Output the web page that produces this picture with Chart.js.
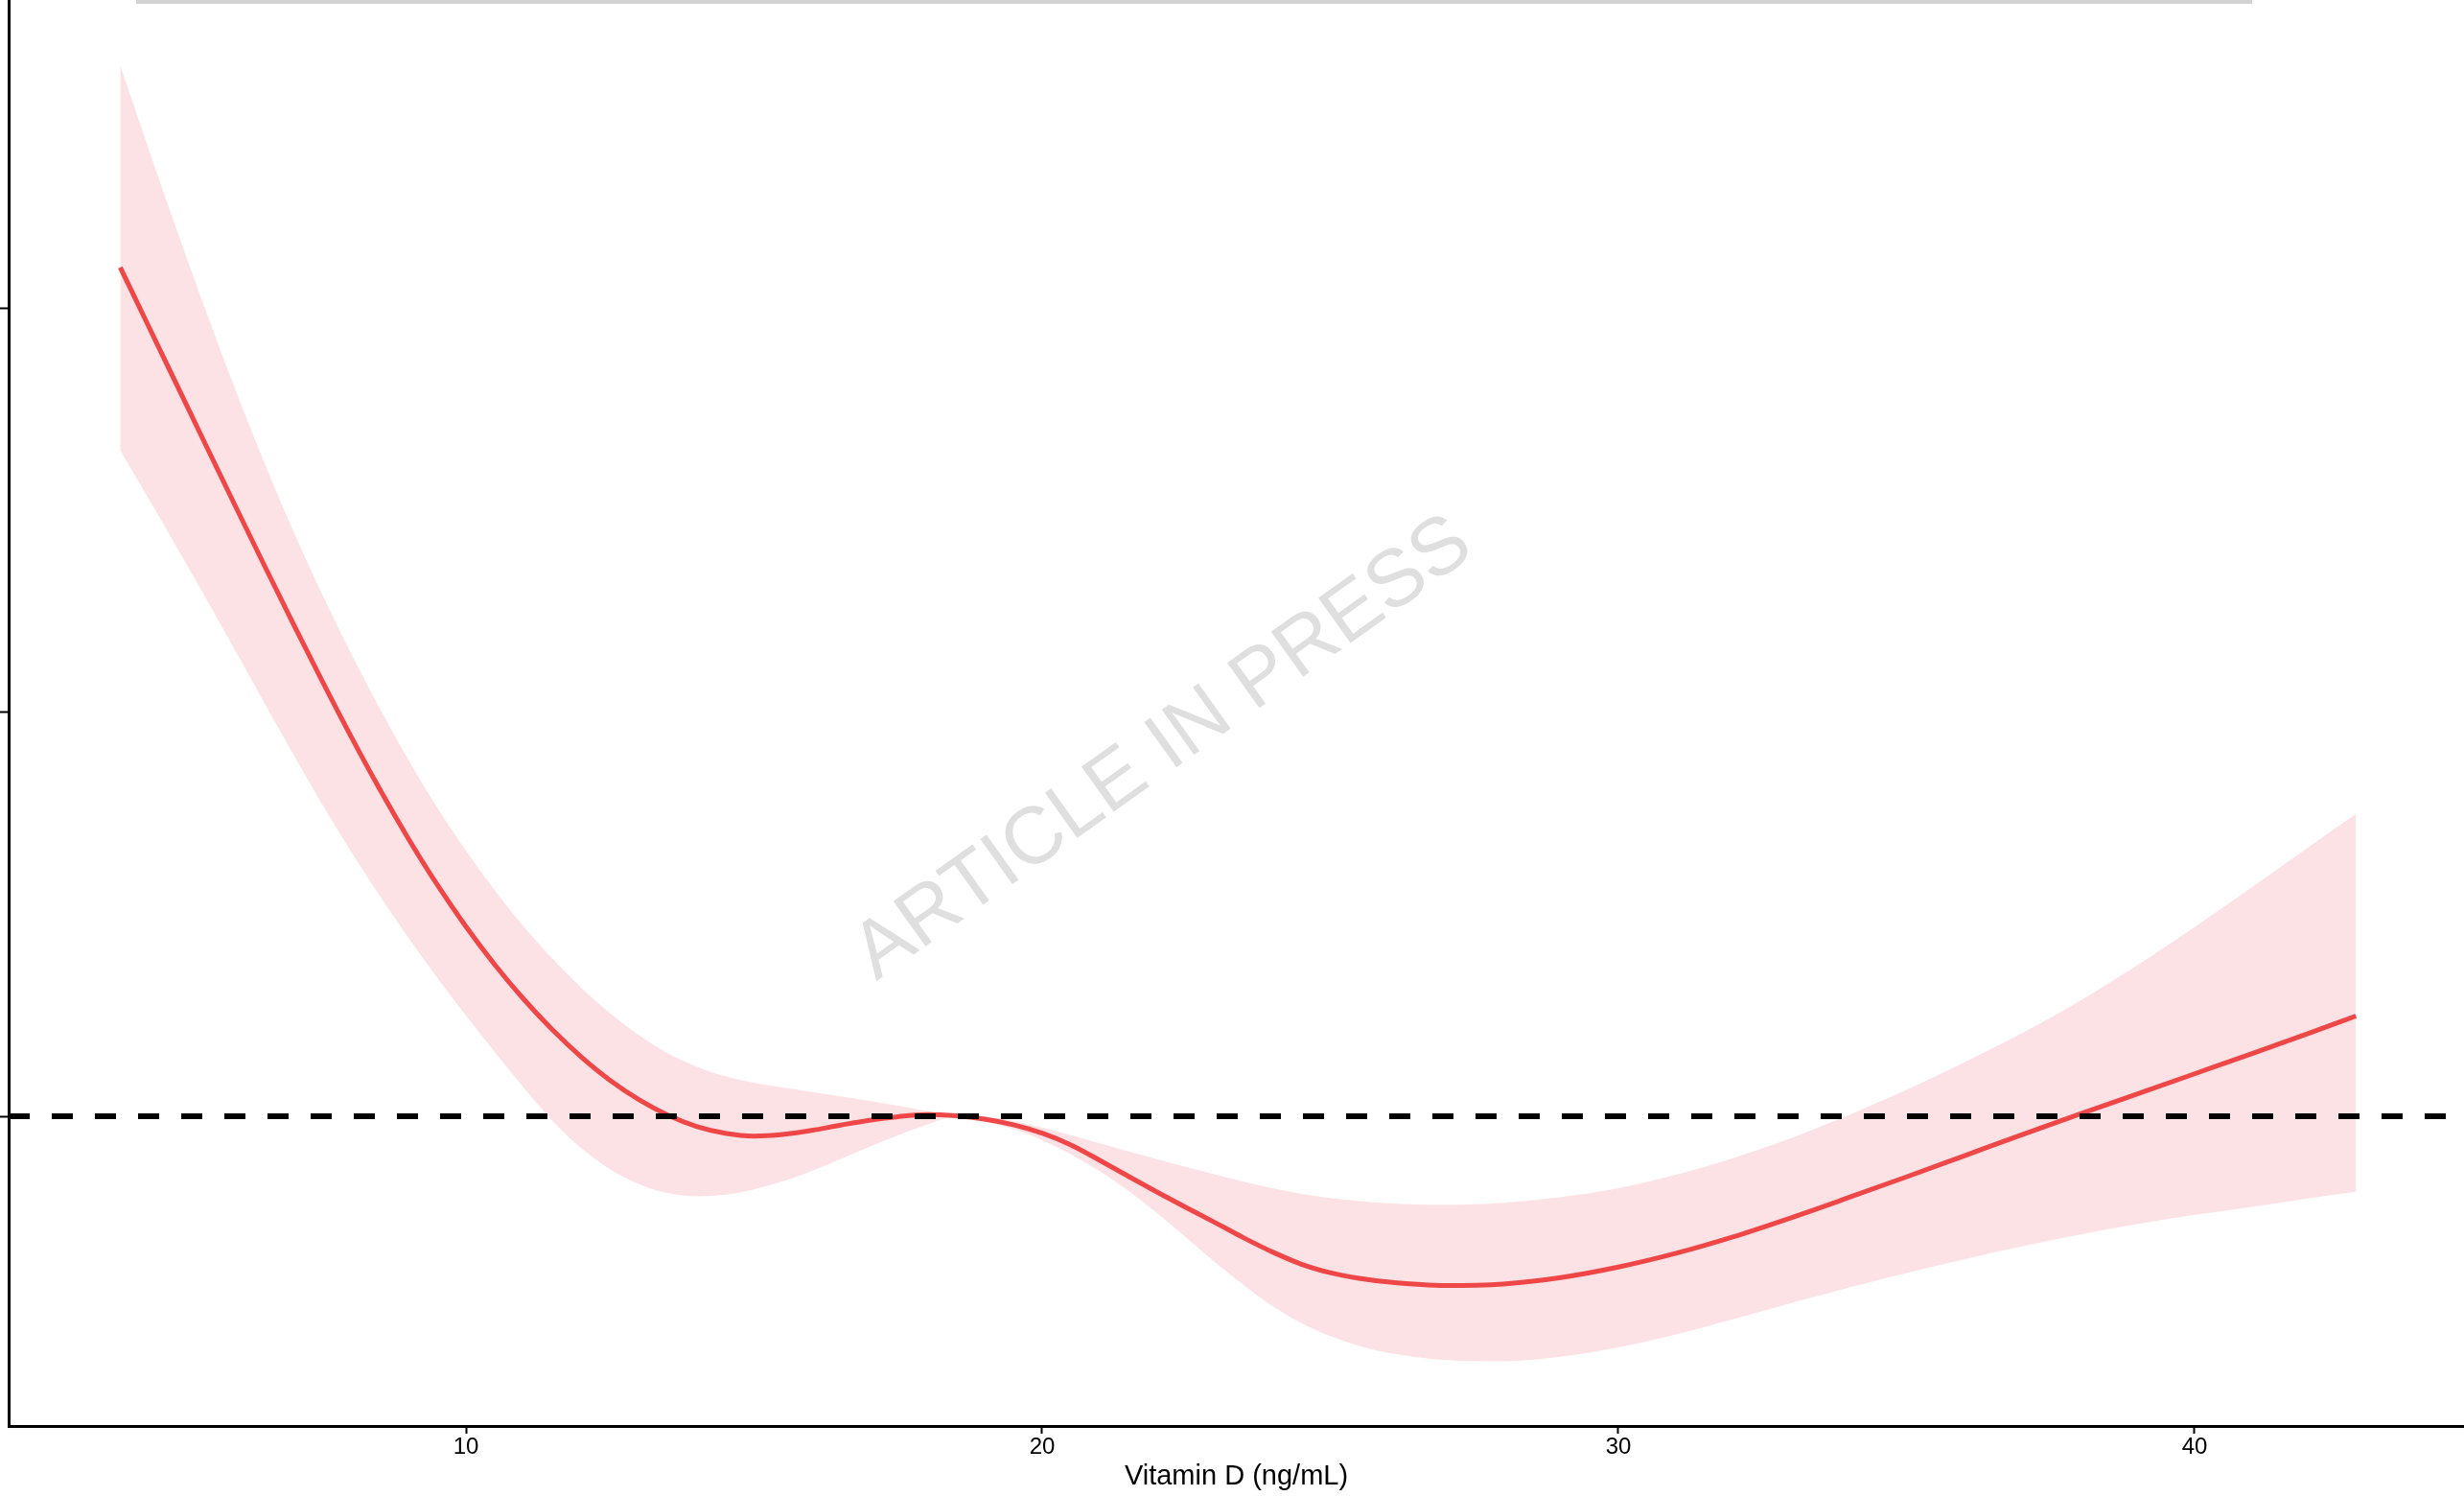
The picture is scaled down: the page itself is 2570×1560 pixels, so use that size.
<!DOCTYPE html>
<html>
<head>
<meta charset="utf-8">
<script src="https://cdn.jsdelivr.net/npm/chart.js@4.4.1/dist/chart.umd.min.js"></script>
<style>
  html, body { margin: 0; padding: 0; background: #ffffff; }
  canvas { display: block; }
</style>
</head>
<body>
<canvas id="rcs" width="2570" height="1560"></canvas>
<script>
// Serum vitamin D (ng/mL) at which the restricted cubic spline was evaluated
const vitaminD = [4, 4.5, 5, 5.5, 6, 6.5, 7, 7.5, 8, 8.5, 9, 9.5, 10, 10.5, 11, 11.5, 12, 12.5, 13, 13.5,
  14, 14.5, 15, 15.5, 16, 16.5, 17, 17.5, 18, 18.5, 19, 19.5, 20, 20.5, 21, 21.5, 22, 22.5, 23, 23.5,
  24, 24.5, 25, 25.5, 26, 27, 28, 29, 30, 31, 32, 33, 34, 35, 36, 37, 38, 39, 40, 41, 42, 42.8];

// Fitted odds ratio
const oddsRatio = [3.100, 2.952, 2.804, 2.656, 2.509, 2.363, 2.219, 2.078, 1.941, 1.810, 1.687, 1.573, 1.469, 1.375, 1.290, 1.214, 1.147, 1.089, 1.041, 1.003,
  0.975, 0.958, 0.951, 0.955, 0.965, 0.978, 0.990, 0.999, 1.004, 1.001, 0.993, 0.979, 0.958, 0.929, 0.891, 0.851, 0.812, 0.774, 0.737, 0.699,
  0.664, 0.634, 0.613, 0.599, 0.590, 0.581, 0.585, 0.601, 0.627, 0.661, 0.702, 0.749, 0.799, 0.850, 0.902, 0.954, 1.005, 1.055, 1.105, 1.155, 1.206, 1.248];

// 95% confidence limits
const ciUpper = [3.600, 3.390, 3.185, 2.987, 2.797, 2.617, 2.449, 2.293, 2.147, 2.010, 1.882, 1.764, 1.657, 1.559, 1.470, 1.390, 1.318, 1.255, 1.201, 1.156,
  1.123, 1.099, 1.083, 1.071, 1.060, 1.049, 1.038, 1.026, 1.013, 1.000, 0.998, 0.988, 0.972, 0.953, 0.933, 0.913, 0.894, 0.874, 0.856, 0.838,
  0.822, 0.808, 0.798, 0.790, 0.785, 0.781, 0.786, 0.800, 0.822, 0.855, 0.897, 0.946, 1.003, 1.065, 1.133, 1.205, 1.285, 1.373, 1.468, 1.567, 1.668, 1.748];

const ciLower = [2.648, 2.526, 2.403, 2.278, 2.151, 2.023, 1.896, 1.773, 1.656, 1.546, 1.442, 1.343, 1.249, 1.159, 1.071, 0.989, 0.921, 0.869, 0.832, 0.810,
  0.802, 0.806, 0.819, 0.839, 0.865, 0.894, 0.924, 0.953, 0.979, 1.000, 0.987, 0.968, 0.941, 0.906, 0.864, 0.815, 0.760, 0.700, 0.639, 0.582,
  0.530, 0.488, 0.456, 0.432, 0.415, 0.397, 0.394, 0.405, 0.428, 0.460, 0.498, 0.538, 0.576, 0.612, 0.646, 0.678, 0.707, 0.733, 0.756, 0.776, 0.797, 0.813];

const xTicks = [10, 20, 30, 40];
const yTicks = [1, 2, 3];
const referenceOR = 1;
const xLimits = [2.063, 44.676];
const yLimits = [0.2337, 3.7616];

const xTitle = 'Vitamin D (ng/mL)';
const watermarkText = 'ARTICLE IN PRESS';

const FONT = '"Liberation Sans", Arial, Helvetica, sans-serif';

const toPoints = (ys) => vitaminD.map((x, i) => ({ x: x, y: ys[i] }));
const refLine = [{ x: xLimits[0], y: referenceOR }, { x: xLimits[1], y: referenceOR }];

// Light grey strip along the top edge and the diagonal watermark
const decorations = {
  id: 'decorations',
  beforeDatasetsDraw(chart) {
    const ctx = chart.ctx;
    ctx.save();
    ctx.translate(1227, 800);
    ctx.rotate(-35.5 * Math.PI / 180);
    ctx.font = '84px ' + FONT;
    ctx.fillStyle = '#dfdfdf';
    ctx.textAlign = 'center';
    ctx.textBaseline = 'alphabetic';
    ctx.fillText(watermarkText, 0, 0);
    ctx.restore();
  },
  afterDraw(chart) {
    const ctx = chart.ctx;
    ctx.save();
    ctx.fillStyle = '#d3d3d3';
    ctx.fillRect(142, 0, 2207, 4);
    ctx.restore();
  }
};

new Chart(document.getElementById('rcs'), {
  type: 'line',
  data: {
    datasets: [
      {
        label: 'OR = 1',
        data: refLine,
        borderColor: '#000000',
        borderWidth: 6,
        borderDash: [22, 23],
        pointRadius: 0,
        fill: false,
        order: 0
      },
      {
        label: 'OR',
        data: toPoints(oddsRatio),
        borderColor: '#ef4747',
        borderWidth: 5,
        pointRadius: 0,
        cubicInterpolationMode: 'monotone',
        fill: false,
        order: 1
      },
      {
        label: '95% CI upper',
        data: toPoints(ciUpper),
        borderColor: 'rgba(0,0,0,0)',
        borderWidth: 0,
        backgroundColor: '#fde2e5',
        pointRadius: 0,
        cubicInterpolationMode: 'monotone',
        fill: '+1',
        order: 2
      },
      {
        label: '95% CI lower',
        data: toPoints(ciLower),
        borderColor: 'rgba(0,0,0,0)',
        borderWidth: 0,
        pointRadius: 0,
        cubicInterpolationMode: 'monotone',
        fill: false,
        order: 3
      }
    ]
  },
  options: {
    responsive: false,
    devicePixelRatio: 1,
    animation: false,
    layout: { padding: 0 },
    plugins: {
      legend: { display: false },
      tooltip: { enabled: false },
      filler: { propagate: false }
    },
    scales: {
      x: {
        type: 'linear',
        position: 'bottom',
        min: xLimits[0],
        max: xLimits[1],
        afterBuildTicks: (scale) => { scale.ticks = xTicks.map(v => ({ value: v })); },
        afterFit: (scale) => { scale.height = 73; },
        grid: {
          drawOnChartArea: false,
          drawTicks: true,
          tickLength: 8,
          tickWidth: 2,
          tickColor: '#000000'
        },
        border: { display: true, color: '#000000', width: 3 },
        ticks: {
          color: '#000000',
          padding: 0,
          maxRotation: 0,
          font: { family: FONT, size: 24 },
          callback: (v) => String(v)
        },
        title: {
          display: true,
          text: xTitle,
          color: '#000000',
          font: { family: FONT, size: 29 },
          padding: { top: 0, bottom: 3 }
        }
      },
      y: {
        type: 'linear',
        position: 'left',
        min: yLimits[0],
        max: yLimits[1],
        afterBuildTicks: (scale) => { scale.ticks = yTicks.map(v => ({ value: v })); },
        afterFit: (scale) => { scale.width = 9; },
        grid: {
          drawOnChartArea: false,
          drawTicks: true,
          tickLength: 9,
          tickWidth: 2,
          tickColor: '#000000'
        },
        border: { display: true, color: '#000000', width: 3 },
        ticks: { display: false }
      }
    }
  },
  plugins: [decorations]
});
</script>
</body>
</html>
